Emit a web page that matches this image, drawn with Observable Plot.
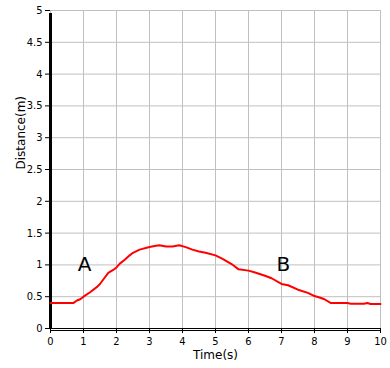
<!DOCTYPE html>
<html><head><meta charset="utf-8">
<script src="https://cdn.jsdelivr.net/npm/d3@7"></script>
<script src="https://cdn.jsdelivr.net/npm/@observablehq/plot@0.6"></script>
<style>body{margin:0;background:#fff;font-family:"DejaVu Sans Condensed","DejaVu Sans",sans-serif}</style>
</head><body><div id="chart"></div>
<script>
const time = [0, 0.3, 0.69, 0.8, 0.9, 1.0, 1.2, 1.4, 1.5, 1.6, 1.75, 1.9, 2.0, 2.1, 2.25, 2.4, 2.5, 2.7, 3.0, 3.2, 3.3, 3.5, 3.7, 3.9, 4.1, 4.3, 4.5, 4.7, 5.0, 5.2, 5.5, 5.7, 6.0, 6.2, 6.5, 6.7, 7.0, 7.2, 7.5, 7.8, 8.0, 8.2, 8.3, 8.5, 8.7, 9.0, 9.1, 9.5, 9.6, 9.7, 10];
const distance = [0.40, 0.40, 0.40, 0.44, 0.46, 0.50, 0.57, 0.65, 0.70, 0.77, 0.875, 0.92, 0.96, 1.02, 1.08, 1.15, 1.19, 1.24, 1.28, 1.30, 1.31, 1.29, 1.29, 1.31, 1.28, 1.24, 1.21, 1.19, 1.15, 1.10, 1.01, 0.93, 0.91, 0.88, 0.83, 0.79, 0.70, 0.68, 0.61, 0.56, 0.51, 0.48, 0.46, 0.40, 0.40, 0.40, 0.39, 0.39, 0.40, 0.385, 0.385];
const labels = ["A", "B"];
const labelX = [1.03, 7.06];
const labelY = [1.0, 1.0];
const xTicks = [0,1,2,3,4,5,6,7,8,9,10];
const yTicks = [0,0.5,1,1.5,2,2.5,3,3.5,4,4.5,5];
const xTitle = "Time(s)";
const yTitle = "Distance(m)";

const pts = time.map((t,i)=>({t, d: distance[i]}));
const lab = labels.map((s,i)=>({s, x: labelX[i], y: labelY[i]}));

const chart = Plot.plot({
  width: 390, height: 368,
  marginLeft: 50, marginRight: 10, marginTop: 10, marginBottom: 40,
  style: {fontFamily: "'DejaVu Sans Condensed', 'DejaVu Sans', sans-serif", fontSize: "11px", background: "#fff", color: "#000"},
  x: {domain: [0,10], label: null},
  y: {domain: [0,5], label: null},
  marks: [
    Plot.gridX(xTicks, {stroke: "#c0c0c0", strokeOpacity: 1}),
    Plot.gridY(yTicks, {stroke: "#c0c0c0", strokeOpacity: 1}),
    Plot.axisX({ticks: xTicks, tickFormat: d => String(d), tickSize: 5, label: null}),
    Plot.axisY({ticks: yTicks, tickFormat: d => String(d), tickSize: 5, tickPadding: 3, label: null}),
    Plot.ruleY([0], {stroke: "#000", strokeWidth: 1}),
    Plot.ruleY([0], {stroke: "#000", strokeWidth: 1, dy: 2}),
    Plot.ruleX([0], {stroke: "#000", strokeWidth: 3, y1: 0, y2: 5, insetBottom: -3}),
    Plot.line(pts, {x: "t", y: "d", stroke: "#ff0000", strokeWidth: 2, curve: "linear"}),
    Plot.text(lab, {x: "x", y: "y", text: "s", fontSize: 20, fontFamily: "DejaVu Sans", fill: "#000"}),
    Plot.text([xTitle], {frameAnchor: "bottom", dy: 30, fontSize: 12, fontFamily: "DejaVu Sans", fill: "#000", text: d => d}),
    Plot.text([yTitle], {frameAnchor: "left", rotate: -90, dx: -29, fontSize: 12, fontFamily: "DejaVu Sans", fill: "#000", text: d => d})
  ]
});
document.getElementById("chart").appendChild(chart);
</script></body></html>
